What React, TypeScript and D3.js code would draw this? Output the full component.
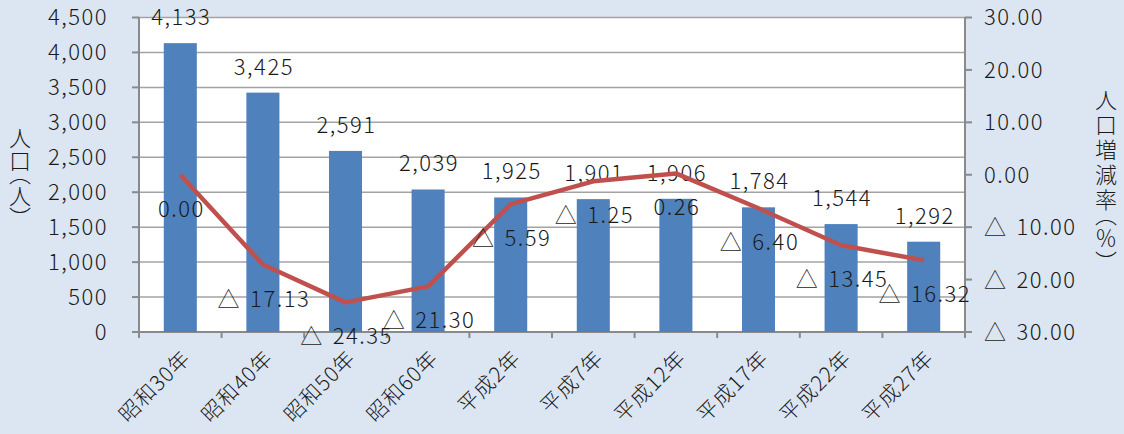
import React from "react";
import * as d3 from "d3";

const categories = ["昭和30年", "昭和40年", "昭和50年", "昭和60年", "平成2年", "平成7年", "平成12年", "平成17年", "平成22年", "平成27年"];
const population = [4133, 3425, 2591, 2039, 1925, 1901, 1906, 1784, 1544, 1292];
const changeRate = [0.0, -17.13, -24.35, -21.3, -5.59, -1.25, 0.26, -6.4, -13.45, -16.32];
const leftTicks = [0, 500, 1000, 1500, 2000, 2500, 3000, 3500, 4000, 4500];
const rightTicks = [-30, -20, -10, 0, 10, 20, 30];

const W = 1124;
const H = 434;
const FONT = "'Noto Sans CJK JP', 'Noto Sans', sans-serif";
const LS = "1.5px";

function RateText(props: { v: number; [k: string]: any }) {
  const { v, ...rest } = props;
  if (v < 0) {
    return (
      <text {...rest}>
        <tspan>△</tspan>
        <tspan dx={9}>{Math.abs(v).toFixed(2)}</tspan>
      </text>
    );
  }
  return <text {...rest}>{v.toFixed(2)}</text>;
}

export default function App() {
  const left = 139, right = 965, top = 17.5, bottom = 332;
  const x = d3.scaleBand<string>().domain(categories).range([left, right]).paddingInner(0.6).paddingOuter(0.3);
  const step = x.step();
  const cx = (c: string) => (x(c) as number) + x.bandwidth() / 2;
  const yL = d3.scaleLinear().domain([0, 4500]).range([bottom, top]);
  const yR = d3.scaleLinear().domain([-30, 30]).range([bottom, top]);
  const line = d3.line<number>().x((_, i) => cx(categories[i])).y((d) => yR(d));
  const fmtPop = d3.format(",");
  const grid = "#a3a3a3";
  const axis = "#8a8a8a";
  const txt = "#1a1a1a";
  const fw = 300;

  return (
    <svg width={W} height={H} style={{ position: "absolute", left: 0, top: 0, fontFamily: FONT, fontWeight: fw }}>
      <rect x={0} y={0} width={W} height={H} fill="#dce6f2" />
      <rect x={left} y={top} width={right - left} height={bottom - top} fill="#ffffff" />
      {leftTicks.map((t) => (
        <g key={"gl" + t}>
          <line x1={left} x2={right} y1={yL(t)} y2={yL(t)} stroke={grid} strokeWidth={1.5} />
          <line x1={left - 7} x2={left} y1={yL(t)} y2={yL(t)} stroke={axis} strokeWidth={2} />
          <text x={108} y={yL(t)} dy="0.36em" textAnchor="end" fontSize={22} fill={txt} style={{ letterSpacing: LS }}>
            {fmtPop(t)}
          </text>
        </g>
      ))}
      {rightTicks.map((t) => (
        <g key={"gr" + t}>
          <line x1={right} x2={right + 7} y1={yR(t)} y2={yR(t)} stroke={axis} strokeWidth={2} />
          <RateText v={t} x={984} y={yR(t)} dy="0.36em" textAnchor="start" fontSize={22} fill={txt} style={{ letterSpacing: LS }} />
        </g>
      ))}
      <line x1={left} x2={left} y1={top} y2={bottom} stroke={axis} strokeWidth={2} />
      <line x1={right} x2={right} y1={top} y2={bottom} stroke={axis} strokeWidth={2} />
      <line x1={left} x2={right} y1={bottom} y2={bottom} stroke={axis} strokeWidth={2} />
      {d3.range(categories.length + 1).map((i) => (
        <line key={"xt" + i} x1={left + i * step} x2={left + i * step} y1={bottom} y2={bottom + 6} stroke={axis} strokeWidth={2} />
      ))}
      {categories.map((c, i) => (
        <rect key={"b" + c} x={x(c)} y={yL(population[i])} width={x.bandwidth()} height={bottom - yL(population[i])} fill="#4f81bd" />
      ))}
      {categories.map((c, i) => (
        <text key={"bl" + c} x={cx(c) + 1} y={yL(population[i]) - 18} textAnchor="middle" fontSize={22} fill={txt} style={{ letterSpacing: LS }}>
          {fmtPop(population[i])}
        </text>
      ))}
      <path d={line(changeRate) as string} fill="none" stroke="#c0504d" strokeWidth={4.5} strokeLinejoin="round" />
      {categories.map((c, i) => (
        <RateText key={"ll" + c} v={changeRate[i]} x={cx(c) + 1} y={yR(changeRate[i]) + 42} textAnchor="middle" fontSize={22} fill={txt} style={{ letterSpacing: LS }} />
      ))}
      {categories.map((c) => (
        <text
          key={"xl" + c}
          transform={`translate(${cx(c) + 1},${bottom + 17}) rotate(-45)`}
          textAnchor="end"
          dy="0.7em"
          fontSize={21}
          fill={txt}
          style={{ letterSpacing: "1px" }}
        >
          {c}
        </text>
      ))}
      <text
        x={20}
        y={173}
        textAnchor="middle"
        fontSize={22}
        fill={txt}
        style={{ writingMode: "vertical-rl", letterSpacing: "1px", fontFeatureSettings: '"vpal"' } as any}
      >
        人口（人）
      </text>
      <text
        x={1106}
        y={177}
        textAnchor="middle"
        fontSize={22}
        fill={txt}
        style={{ writingMode: "vertical-rl", letterSpacing: "3px", fontFeatureSettings: '"vpal"' } as any}
      >
        人口増減率（％）
      </text>
    </svg>
  );
}
